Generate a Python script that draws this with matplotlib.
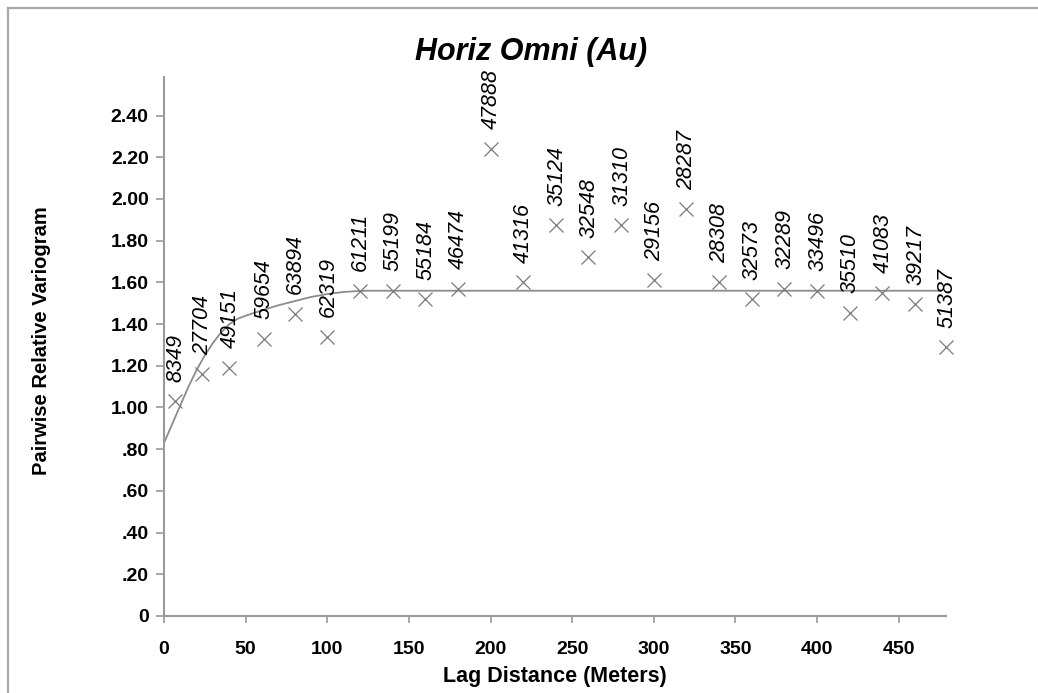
import matplotlib
matplotlib.use("Agg")
import matplotlib.pyplot as plt
from matplotlib.lines import Line2D

plt.rcParams['font.family'] = ['Liberation Sans', 'DejaVu Sans']

# experimental variogram: lag (m), pairwise relative gamma, number of pairs
lags = [7, 23, 40, 61, 80, 100, 120, 140, 160, 180, 200, 220, 240,
        260, 280, 300, 320, 340, 360, 380, 400, 420, 440, 460, 479]
gamma = [1.03, 1.16, 1.19, 1.33, 1.45, 1.34, 1.56, 1.56, 1.52, 1.57, 2.24,
         1.60, 1.875, 1.72, 1.875, 1.61, 1.95, 1.60, 1.52, 1.57, 1.56,
         1.455, 1.55, 1.495, 1.29]
pairs = [8349, 27704, 49151, 59654, 63894, 62319, 61211, 55199, 55184,
         46474, 47888, 41316, 35124, 32548, 31310, 29156, 28287, 28308,
         32573, 32289, 33496, 35510, 41083, 39217, 51387]

# fitted model curve, sampled along the lag axis
model_lag = [0, 5, 10, 15, 20, 25, 30, 35, 40, 45, 50, 60, 70, 80, 90,
             100, 110, 120, 125, 475]
model_gamma = [0.83, 0.92, 1.01, 1.10, 1.18, 1.25, 1.31, 1.36, 1.40, 1.425,
               1.44, 1.466, 1.49, 1.51, 1.53, 1.544, 1.554, 1.559, 1.56, 1.56]

yticks = [0, 0.2, 0.4, 0.6, 0.8, 1.0, 1.2, 1.4, 1.6, 1.8, 2.0, 2.2, 2.4]
ytick_labels = ['0', '.20', '.40', '.60', '.80', '1.00', '1.20', '1.40',
                '1.60', '1.80', '2.00', '2.20', '2.40']
xticks = [0, 50, 100, 150, 200, 250, 300, 350, 400, 450]

W, H = 1038, 693
fig = plt.figure(figsize=(W / 100, H / 100), dpi=100)
ax = fig.add_axes([164 / W, 1 - 616 / H, (946 - 164) / W, (616 - 77) / H])

grey = '#9a9a9a'
ax.plot(model_lag, model_gamma, color='#8c8c8c', lw=1.3, zorder=2)
ax.plot(lags, gamma, linestyle='none', marker='x', markersize=10,
        markeredgewidth=0.9, color='#7a7a7a', zorder=3, clip_on=False)

for x, y, n in zip(lags, gamma, pairs):
    ax.annotate(str(n), (x, y), xytext=(0.5, 14), textcoords='offset points',
                rotation=90, ha='center', va='bottom', fontsize=15.5,
                fontstyle='italic', color='black', zorder=4)

ax.set_xlim(0, 479)
ax.set_ylim(0, 2.585)
ax.set_xticks(xticks)
ax.set_xticklabels([str(t) for t in xticks], fontsize=14, fontweight='bold')
ax.set_yticks(yticks)
ax.set_yticklabels(ytick_labels, fontsize=14, fontweight='bold')
ax.tick_params(axis='y', direction='out', length=6, width=1.2, color=grey, pad=5)
ax.tick_params(axis='x', direction='out', length=5, width=1.2, color=grey, pad=13)

for side in ['top', 'right']:
    ax.spines[side].set_visible(False)
for side in ['left', 'bottom']:
    ax.spines[side].set_color(grey)
    ax.spines[side].set_linewidth(1.5)

ax.set_xlabel('Lag Distance (Meters)', fontsize=15.5, fontweight='bold')
ax.xaxis.set_label_coords(0.5, -(666 - 616) / (616 - 77))
ax.set_ylabel('Pairwise Relative Variogram', fontsize=14.5, fontweight='bold')
ax.yaxis.set_label_coords(-(164 - 51) / (946 - 164), 0.51)

fig.text(531 / W, 1 - 60 / H, 'Horiz Omni (Au)', ha='center', va='baseline',
         fontsize=22, fontweight='bold', fontstyle='italic')

# frame lines along the top and left edges of the image
fig.add_artist(Line2D([8 / W, 1], [1 - 8 / H, 1 - 8 / H], color='#a8a8a8', lw=1.6))
fig.add_artist(Line2D([8 / W, 8 / W], [0, 1 - 8 / H], color='#a8a8a8', lw=1.6))

fig.savefig('out.png', dpi=100)
